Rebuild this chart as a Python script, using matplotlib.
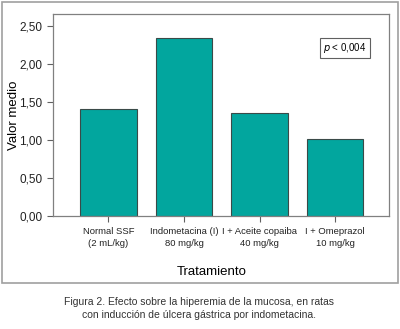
import matplotlib.pyplot as plt
from matplotlib.patches import Rectangle

plt.rcParams['font.family'] = ['Liberation Sans', 'DejaVu Sans']

categorias = ['Normal SSF\n(2 mL/kg)', 'Indometacina (I)\n80 mg/kg',
              'I + Aceite copaiba\n40 mg/kg', 'I + Omeprazol\n10 mg/kg']
valores = [1.41, 2.35, 1.35, 1.01]
yticks = [0.0, 0.5, 1.0, 1.5, 2.0, 2.5]

fig = plt.figure(figsize=(4.0, 3.29), dpi=100)
W, H = 400, 329

# outer frame
fig.patches.append(Rectangle((2 / W, 1 - 283 / H), 396 / W, 281 / H, transform=fig.transFigure,
                             fill=False, edgecolor='#a0a0a0', lw=1.2))

ax = fig.add_axes([53 / W, 1 - 216 / H, 336 / W, 202 / H])
x = range(len(valores))
ax.bar(x, valores, width=0.75, color='#02a69e', edgecolor='#3a4a48', linewidth=0.8)
ax.set_xlim(-0.735, 3.715)
ax.set_ylim(0, 2.66)
ax.set_yticks(yticks)
ax.set_yticklabels([f'{v:.2f}'.replace('.', ',') for v in yticks], fontsize=8.5)
ax.set_xticks(list(x))
ax.set_xticklabels(categorias, fontsize=6.8, linespacing=1.4)
for s in ax.spines.values():
    s.set_color('#808080')
    s.set_linewidth(0.9)
ax.tick_params(colors='#606060', labelcolor='#222222', length=4, width=0.8)
ax.tick_params(axis='x', pad=4)
ax.set_ylabel('Valor medio', fontsize=9.5)
ax.yaxis.set_label_coords((20 - 53) / 336, 0.5)
ax.set_xlabel('Tratamiento', fontsize=9.5)
ax.xaxis.set_label_coords((212 - 53) / 336, -(266 - 216) / 202)

fig.text(345 / W, 1 - 48 / H, r'$p$ < 0,004', ha='center', va='center', fontsize=7,
         bbox=dict(boxstyle='square,pad=0.3', facecolor='white', edgecolor='#606060', lw=0.8))

fig.text(199 / W, 1 - 302 / H, 'Figura 2. Efecto sobre la hiperemia de la mucosa, en ratas',
         ha='center', va='center', fontsize=7.5, color='#333333')
fig.text(199 / W, 1 - 315 / H, 'con inducción de úlcera gástrica por indometacina.',
         ha='center', va='center', fontsize=7.5, color='#333333')

fig.savefig('out.png', dpi=100)
